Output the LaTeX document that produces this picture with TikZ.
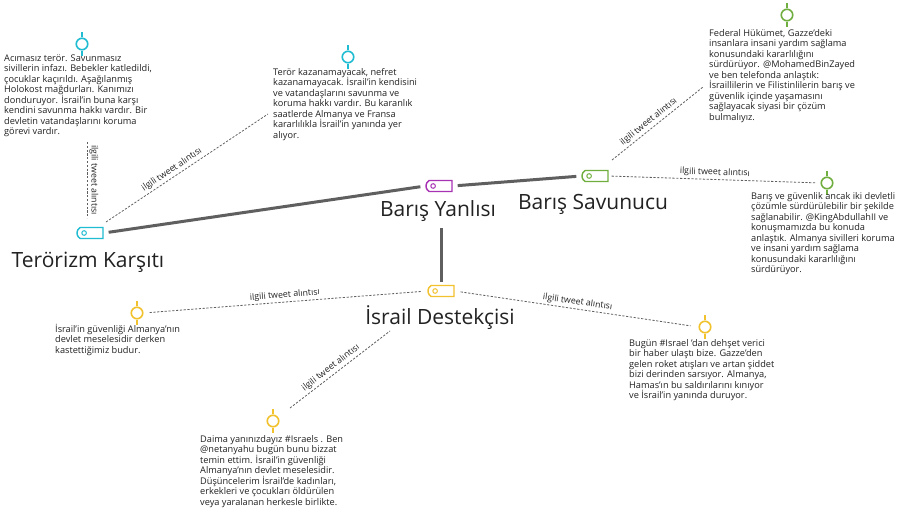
\documentclass[tikz,border=0pt]{standalone}
\usepackage{fontspec}
\setmainfont{Open Sans}
\usetikzlibrary{shapes.misc}
\definecolor{cyanc}{HTML}{1FBCD2}
\definecolor{purpc}{HTML}{A832B4}
\definecolor{greenc}{HTML}{6FAE3F}
\definecolor{yellc}{HTML}{F2C12E}
\definecolor{linec}{HTML}{5F5F5F}
\definecolor{textc}{HTML}{222222}
\newcommand\pinstems[2]{\draw[draw=#2, line width=1.6pt] (#1.north) -- ++(0pt,5.5pt) (#1.south) -- ++(0pt,-5.5pt);}
\begin{document}
\begin{tikzpicture}[x=1pt,y=-1pt,
  tagbox/.style={rounded rectangle, rounded rectangle right arc=none, rounded rectangle arc length=120,
     draw=#1, line width=1.4pt, minimum width=26pt, minimum height=11pt, inner sep=0pt,
     path picture={\draw[#1, line width=1pt] ([xshift=8pt]path picture bounding box.west) circle (2.3pt);}},
  tweetpin/.style={circle, draw=#1, line width=1.6pt, minimum size=11.5pt, inner sep=0pt},
  bigtitle/.style={font=\fontsize{21}{25}\selectfont, text=textc, inner sep=0pt},
  tweettext/.style={font=\fontsize{9.2}{10.5}\selectfont, text=textc, align=left, inner sep=0pt, anchor=north west},
  mainline/.style={draw=linec, line width=3pt, shorten <=5pt, shorten >=5pt},
  quoteline/.style={draw=linec, line width=0.8pt, dash pattern=on 2.2pt off 1.6pt},
  qlabel/.style={font=\fontsize{8.8}{10}\selectfont, text=textc, inner sep=2pt, sloped, above}]
\fill[white] (0,0) rectangle (910,511);
\useasboundingbox (0,0) rectangle (910,511);

% tags
\node[tagbox=cyanc] (tagT) at (90,233) {};
\node[tagbox=purpc] (tagY) at (439,186) {};
\node[tagbox=greenc] (tagS) at (595,176) {};
\node[tagbox=yellc] (tagI) at (441,291) {};

% titles
\node[bigtitle, anchor=base] (lblT) at (88,267) {Terörizm Karşıtı};
\node[bigtitle, anchor=base] (lblY) at (438,216) {Barış Yanlısı};
\node[bigtitle, anchor=base] (lblS) at (593,209) {Barış Savunucu};
\node[bigtitle, anchor=base] (lblI) at (440,324) {İsrail Destekçisi};

% pins
\node[tweetpin=cyanc] (p1) at (82,44) {};
\node[tweetpin=cyanc] (p2) at (348,57) {};
\node[tweetpin=greenc] (p3) at (787,15) {};
\node[tweetpin=greenc] (p4) at (827,183) {};
\node[tweetpin=yellc] (p5) at (137,313) {};
\node[tweetpin=yellc] (p6) at (273,421) {};
\node[tweetpin=yellc] (p7) at (705,327) {};
\pinstems{p1}{cyanc}
\pinstems{p2}{cyanc}
\pinstems{p3}{greenc}
\pinstems{p4}{greenc}
\pinstems{p5}{yellc}
\pinstems{p6}{yellc}
\pinstems{p7}{yellc}

% tweets
\node[tweettext] (q1) at (4,53) {\vphantom{İ}Acımasız terör. Savunmasız\\sivillerin infazı. Bebekler katledildi,\\çocuklar kaçırıldı. Aşağılanmış\\Holokost mağdurları. Kanımızı\\donduruyor. İsrail'in buna karşı\\kendini savunma hakkı vardır. Bir\\devletin vatandaşlarını koruma\\görevi vardır.};
\node[tweettext] (q2) at (273,67) {\vphantom{İ}Terör kazanamayacak, nefret\\kazanamayacak. İsrail'in kendisini\\ve vatandaşlarını savunma ve\\koruma hakkı vardır. Bu karanlık\\saatlerde Almanya ve Fransa\\kararlılıkla İsrail'in yanında yer\\alıyor.};
\node[tweettext] (q3) at (709,28) {\vphantom{İ}Federal Hükümet, Gazze'deki\\insanlara insani yardım sağlama\\konusundaki kararlılığını\\sürdürüyor. @MohamedBinZayed\\ve ben telefonda anlaştık:\\İsraillilerin ve Filistinlilerin barış ve\\güvenlik içinde yaşamasını\\sağlayacak siyasi bir çözüm\\bulmalıyız.};
\node[tweettext] (q4) at (751,191) {\vphantom{İ}Barış ve güvenlik ancak iki devletli\\çözümle sürdürülebilir bir şekilde\\sağlanabilir. @KingAbdullahII ve\\konuşmamızda bu konuda\\anlaştık. Almanya sivilleri koruma\\ve insani yardım sağlama\\konusundaki kararlılığını\\sürdürüyor.};
\node[tweettext] (q5) at (55,324) {\vphantom{İ}İsrail'in güvenliği Almanya'nın\\devlet meselesidir derken\\kastettiğimiz budur.};
\node[tweettext] (q6) at (200,434) {\vphantom{İ}Daima yanınızdayız \#Israels . Ben\\@netanyahu bugün bunu bizzat\\temin ettim. İsrail'in güvenliği\\Almanya'nın devlet meselesidir.\\Düşüncelerim İsrail'de kadınları,\\erkekleri ve çocukları öldürülen\\veya yaralanan herkesle birlikte.};
\node[tweettext] (q7) at (629,338) {\vphantom{İ}Bugün \#Israel 'dan dehşet verici\\bir haber ulaştı bize. Gazze'den\\gelen roket atışları ve artan şiddet\\bizi derinden sarsıyor. Almanya,\\Hamas'ın bu saldırılarını kınıyor\\ve İsrail'in yanında duruyor.};

% main connectors
\draw[mainline] (tagT.east) -- (tagY.west);
\draw[mainline] (tagY.east) -- (tagS.west);
\draw[mainline, shorten <=7pt, shorten >=3pt] (tagI.north |- lblY.south) -- (tagI.north);

% quote connectors
\coordinate (a1) at (87,142);
\coordinate (a2) at (87,218);
\draw[quoteline] (a1) -- (a2) node[qlabel, pos=0.5] {ilgili tweet alıntısı};
\coordinate (b1) at (106,222);
\coordinate (b2) at (268,114);
\draw[quoteline] (b1) -- (b2) node[qlabel, pos=0.43] {ilgili tweet alıntısı};
\coordinate (c1) at (612,160);
\coordinate (c2) at (703,87);
\draw[quoteline] (c1) -- (c2) node[qlabel, pos=0.45] {ilgili tweet alıntısı};
\draw[quoteline, shorten <=3pt, shorten >=4pt] (tagS.east) -- (p4.west) node[qlabel, pos=0.5] {ilgili tweet alıntısı};
\draw[quoteline, shorten <=6pt, shorten >=6pt] (p5.east) -- (tagI.west) node[qlabel, pos=0.5] {ilgili tweet alıntısı};
\draw[quoteline, shorten <=6pt, shorten >=8pt] (tagI.east) -- (p7.west) node[qlabel, pos=0.5] {ilgili tweet alıntısı};
\coordinate (g1) at (290,408);
\coordinate (g2) at (390,331);
\draw[quoteline] (g1) -- (g2) node[qlabel, pos=0.45] {ilgili tweet alıntısı};
\end{tikzpicture}
\end{document}
